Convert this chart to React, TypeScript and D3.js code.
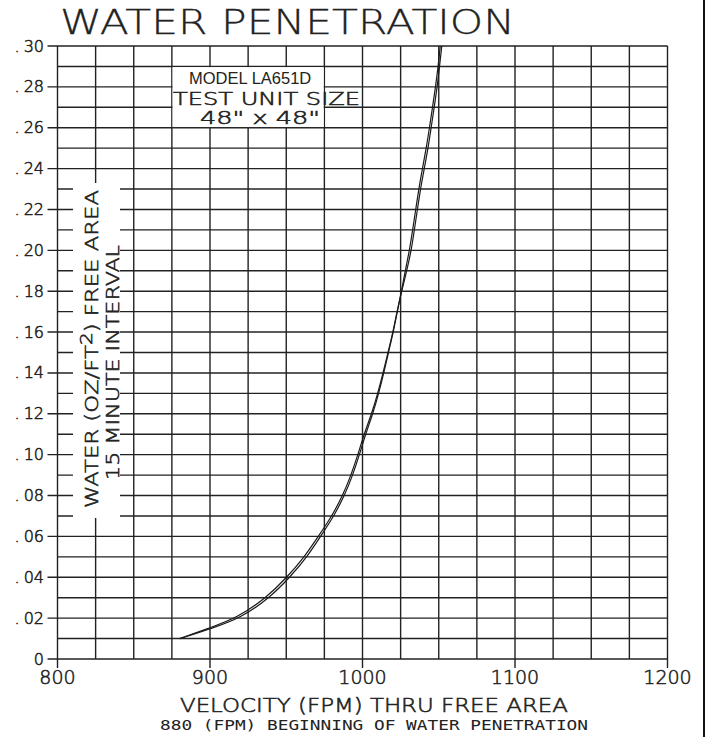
import { useEffect, useRef } from "react"
import * as d3 from "d3"

const waterLevels = [
  0.01, 0.0153, 0.02, 0.03, 0.04, 0.05, 0.06, 0.07, 0.08, 0.09, 0.1, 0.11, 0.12, 0.13, 0.14, 0.15,
  0.16, 0.17, 0.18, 0.19, 0.2, 0.21, 0.22, 0.23, 0.24, 0.25, 0.26, 0.27, 0.28, 0.29, 0.3,
]
const velocityRunA = [
  880, 900, 917.5, 937, 950.5, 962, 971, 980, 987, 992.5, 997, 1001, 1006, 1010, 1013.5, 1016.7,
  1020, 1022.6, 1025.7, 1029, 1032, 1034, 1036, 1038, 1040.5, 1043, 1045, 1047, 1049, 1050.5, 1052,
]
const velocityRunB = [
  880.5, 902.5, 920, 939.2, 952.4, 963.7, 972.5, 981.3, 988.2, 993.6, 998, 1002, 1006.8, 1010.6,
  1014, 1017, 1020.2, 1022.8, 1025.6, 1028, 1030.8, 1032.9, 1034.9, 1036.9, 1039.3, 1041.8,
  1043.9, 1045.9, 1047.9, 1049.6, 1051,
]

const xTickValues = [800, 900, 1000, 1100, 1200]
const yTickValues = [0, 0.02, 0.04, 0.06, 0.08, 0.1, 0.12, 0.14, 0.16, 0.18, 0.2, 0.22, 0.24, 0.26, 0.28, 0.3]
const xGridValues = d3.range(800, 1201, 25)
const yGridValues = d3.range(0, 31).map((d) => d / 100)

const fmtY = (d: number) => (d === 0 ? "0" : d3.format(".2f")(d).replace(/^0\./, ""))

export default function App() {
  const svgRef = useRef<SVGSVGElement>(null)

  useEffect(() => {
    if (!svgRef.current) return
    const svg = d3.select(svgRef.current)
    svg.selectAll("*").remove()

    const x = d3.scaleLinear().domain([800, 1200]).range([57.5, 667.5])
    const y = d3.scaleLinear().domain([0, 0.3]).range([659, 46])
    const ink = "#222"

    // thin single-stroke look of the plotter lettering
    const cadText = (sel: d3.Selection<SVGTextElement, any, any, any>, sw = 0.55) =>
      sel
        .attr("font-family", "'DejaVu Sans', sans-serif")
        .attr("font-weight", 200)
        .attr("fill", ink)
        .attr("stroke", ink)
        .attr("stroke-width", sw)

    svg.append("rect").attr("width", 708).attr("height", 737).attr("fill", "#fff")

    // grid
    svg.append("g")
      .selectAll("line")
      .data(xGridValues)
      .join("line")
      .attr("x1", (d) => x(d))
      .attr("x2", (d) => x(d))
      .attr("y1", y(0.3))
      .attr("y2", (d) => (xTickValues.includes(d) ? y(0) + 9 : y(0)))
      .attr("stroke", ink)
      .attr("stroke-width", 1.4)

    svg.append("g")
      .selectAll("line")
      .data(yGridValues)
      .join("line")
      .attr("x1", (d) => (yTickValues.some((t) => Math.abs(t - d) < 1e-9) ? x(800) - 10 : x(800)))
      .attr("x2", x(1200))
      .attr("y1", (d) => y(d))
      .attr("y2", (d) => y(d))
      .attr("stroke", ink)
      .attr("stroke-width", 1.4)

    // white panels behind the notes
    svg.append("rect")
      .attr("x", x(875) + 0.7)
      .attr("y", y(0.29) + 0.7)
      .attr("width", x(975) - x(875) - 1.4)
      .attr("height", y(0.26) - y(0.29) - 1.4)
      .attr("fill", "#fff")

    svg.append("rect")
      .attr("x", 73)
      .attr("y", 183)
      .attr("width", 47)
      .attr("height", 335)
      .attr("fill", "#fff")

    // curves
    const line = d3
      .line<[number, number]>()
      .x((d) => x(d[0]))
      .y((d) => y(d[1]))
      .curve(d3.curveBasis)

    for (const run of [velocityRunA, velocityRunB]) {
      const pts = run.map((v, i) => [v, waterLevels[i]] as [number, number])
      svg.append("path")
        .attr("d", line(pts))
        .attr("fill", "none")
        .attr("stroke", "#1a1a1a")
        .attr("stroke-width", 1.2)
    }

    // tick labels: ". 30" style with the point set apart
    const yt = svg.append("g")
      .selectAll("text")
      .data(yTickValues)
      .join("text")
      .attr("x", 44)
      .attr("y", (d) => y(d) + 5.5)
      .attr("text-anchor", "end")
      .attr("font-size", 16)
      .call(cadText as any)
    yt.filter((d) => d !== 0).append("tspan").text(".")
    yt.append("tspan")
      .attr("dx", (d) => (d === 0 ? 0 : 4))
      .text(fmtY)

    svg.append("g")
      .selectAll("text")
      .data(xTickValues)
      .join("text")
      .attr("x", (d) => x(d))
      .attr("y", 684)
      .attr("text-anchor", "middle")
      .attr("font-size", 19)
      .text((d) => d)
      .call(cadText as any)

    // titles
    svg.append("text")
      .attr("x", 60)
      .attr("y", 34)
      .attr("font-size", 34)
      .attr("textLength", 455)
      .attr("lengthAdjust", "spacingAndGlyphs")
      .text("WATER PENETRATION")
      .call(cadText, 0.3)

    svg.append("text")
      .attr("x", 180)
      .attr("y", 712)
      .attr("font-size", 19)
      .attr("textLength", 388)
      .attr("lengthAdjust", "spacingAndGlyphs")
      .text("VELOCITY (FPM) THRU FREE AREA")
      .call(cadText)

    svg.append("text")
      .attr("x", 160)
      .attr("y", 730)
      .attr("font-family", "'DejaVu Sans Mono', monospace")
      .attr("font-size", 13.5)
      .attr("textLength", 428)
      .attr("lengthAdjust", "spacingAndGlyphs")
      .attr("fill", ink)
      .text("880 (FPM) BEGINNING OF WATER PENETRATION")

    // y label
    const yl = svg.append("g").attr("transform", "translate(98,508) rotate(-90)")
    const t1 = yl.append("text")
      .attr("x", 0)
      .attr("y", 0)
      .attr("font-size", 17)
      .attr("textLength", 318)
      .attr("lengthAdjust", "spacingAndGlyphs")
      .call(cadText)
    t1.append("tspan").text("WATER (OZ/FT")
    t1.append("tspan").attr("dy", -6).attr("font-size", 15).text("2")
    t1.append("tspan").attr("dy", 6).text(") FREE AREA")
    yl.append("text")
      .attr("x", 28)
      .attr("y", 21)
      .attr("font-size", 17)
      .attr("textLength", 235)
      .attr("lengthAdjust", "spacingAndGlyphs")
      .text("15 MINUTE INTERVAL")
      .call(cadText)

    // model note
    const cx = (x(875) + x(975)) / 2
    svg.append("text")
      .attr("x", cx + 2)
      .attr("y", 84)
      .attr("text-anchor", "middle")
      .attr("font-family", "'Liberation Sans', Arial, sans-serif")
      .attr("font-size", 16.5)
      .attr("fill", ink)
      .text("MODEL LA651D")
    svg.append("text")
      .attr("x", 173)
      .attr("y", 105)
      .attr("font-size", 17)
      .attr("textLength", 187)
      .attr("lengthAdjust", "spacingAndGlyphs")
      .text("TEST UNIT SIZE")
      .call(cadText)
    svg.append("text")
      .attr("x", 200)
      .attr("y", 124)
      .attr("font-size", 17)
      .attr("textLength", 120)
      .attr("lengthAdjust", "spacingAndGlyphs")
      .text('48" x 48"')
      .call(cadText)

    // page border on the right
    svg.append("line")
      .attr("x1", 704)
      .attr("x2", 704)
      .attr("y1", 0)
      .attr("y2", 737)
      .attr("stroke", "#111")
      .attr("stroke-width", 2)
  }, [])

  return (
    <svg
      ref={svgRef}
      width={708}
      height={737}
      style={{ position: "absolute", left: 0, top: 0, display: "block" }}
    />
  )
}
